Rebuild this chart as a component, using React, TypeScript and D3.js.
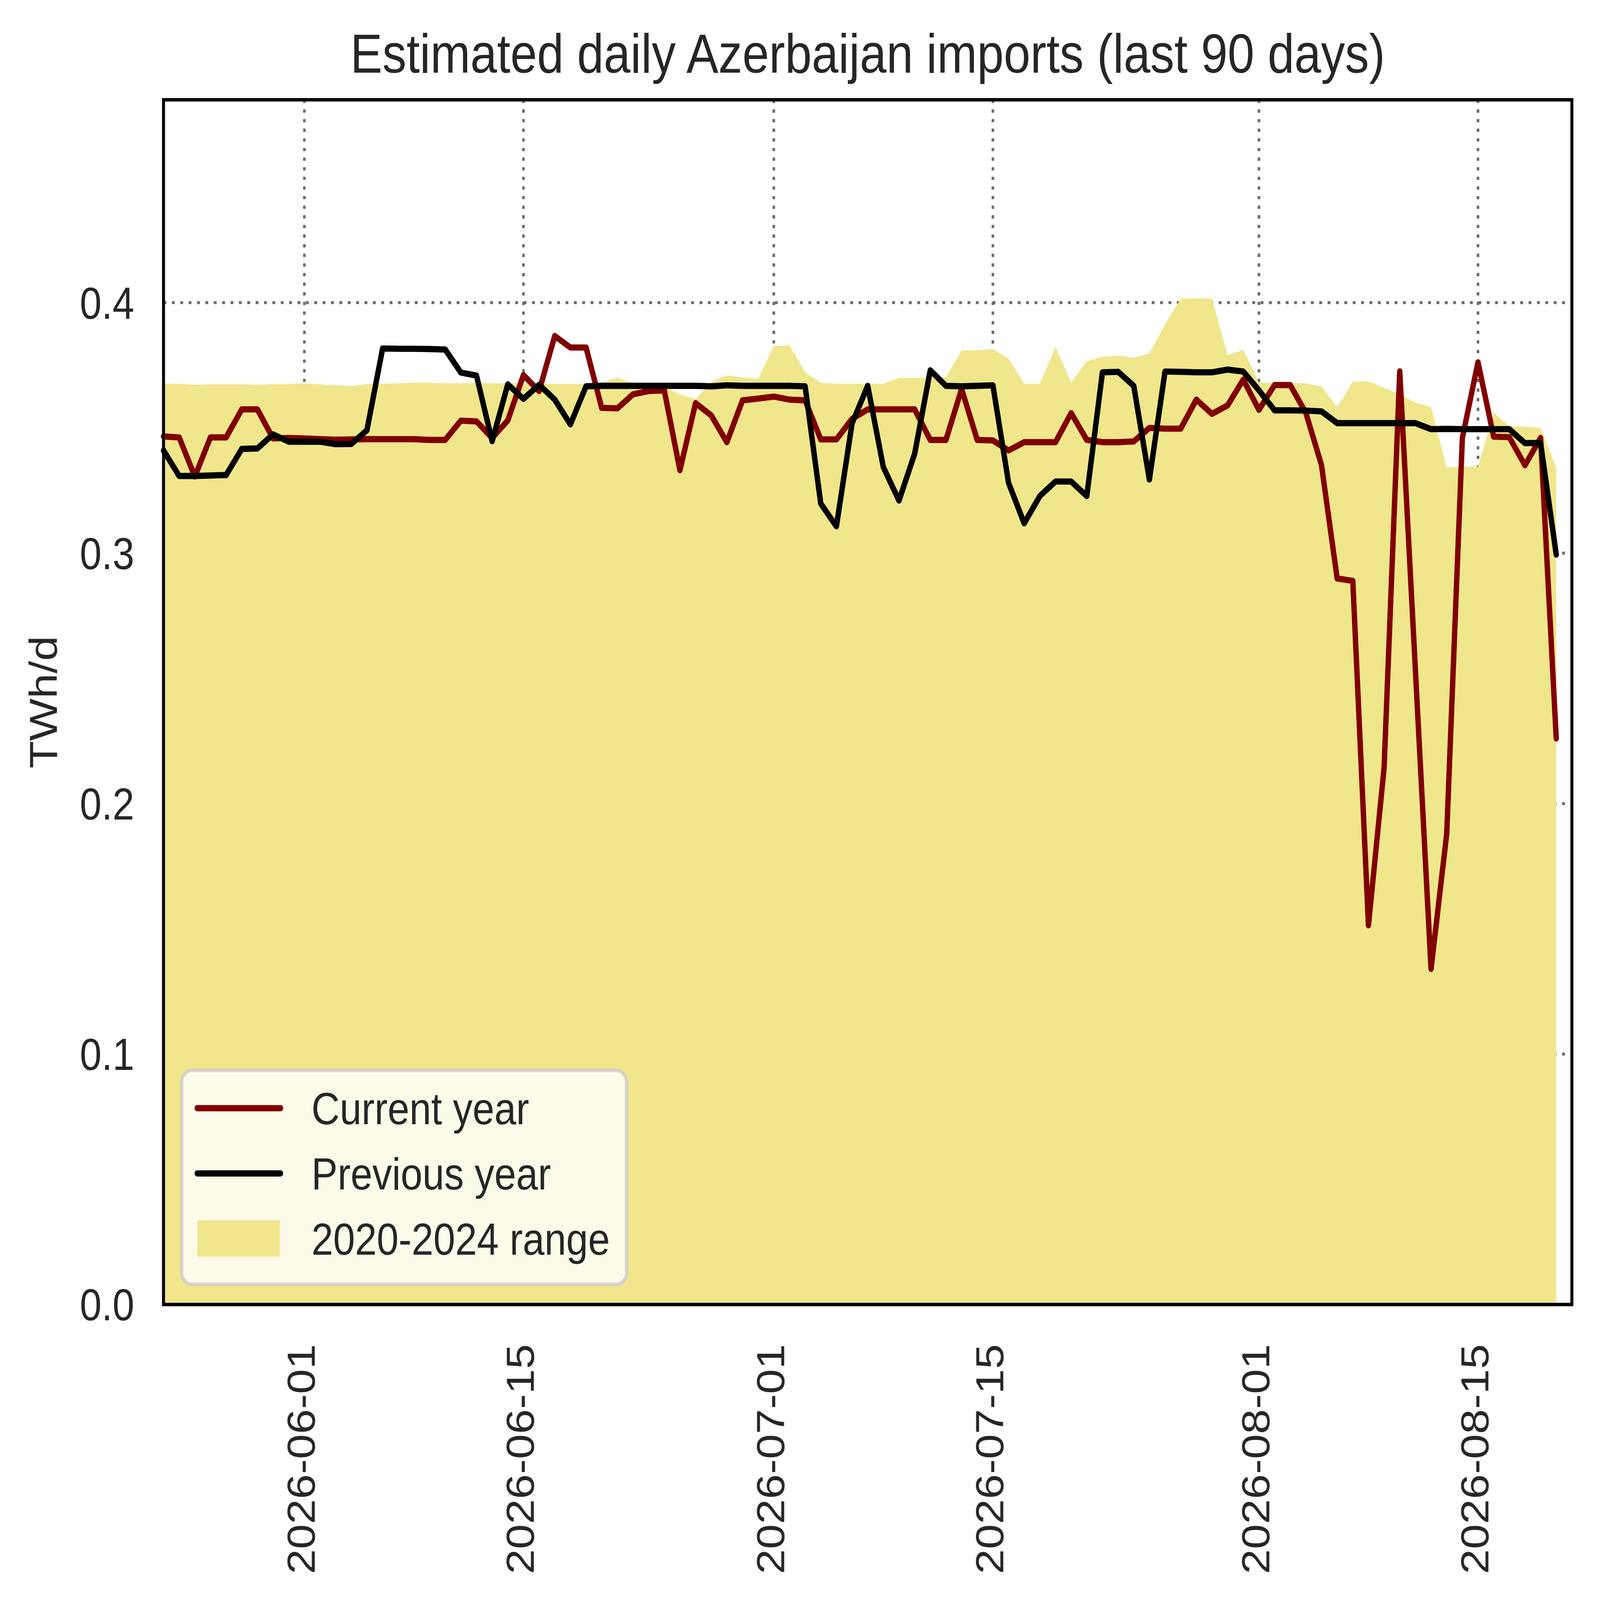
import React, { useEffect, useRef } from 'react';
import * as d3 from 'd3';

// 90 days, first day 2026-05-23
const START_DATE = '2026-05-23';
const END_DATE = '2026-08-21';

const currentYear = [
  0.3466, 0.3462, 0.3306, 0.3462, 0.3462, 0.3574, 0.3574, 0.3458, 0.3460, 0.3458,
  0.3455, 0.3453, 0.3454, 0.3455, 0.3455, 0.3455, 0.3455, 0.3452, 0.3452, 0.3529,
  0.3526, 0.3460, 0.3530, 0.3711, 0.3647, 0.3867, 0.3821, 0.3821, 0.3580, 0.3578,
  0.3634, 0.3647, 0.3650, 0.3331, 0.3599, 0.3550, 0.3443, 0.3610, 0.3617, 0.3625,
  0.3613, 0.3610, 0.3454, 0.3454, 0.3536, 0.3574, 0.3574, 0.3574, 0.3574, 0.3452,
  0.3452, 0.3655, 0.3452, 0.3450, 0.3410, 0.3443, 0.3443, 0.3443, 0.3559, 0.3452,
  0.3443, 0.3443, 0.3446, 0.3500, 0.3497, 0.3497, 0.3613, 0.3556, 0.3590, 0.3693,
  0.3572, 0.3671, 0.3671, 0.3560, 0.3351, 0.2899, 0.2889, 0.1514, 0.2144, 0.3726,
  0.2533, 0.1340, 0.1879, 0.3460, 0.3762, 0.3465, 0.3463, 0.3351, 0.3460, 0.2260,
];

const previousYear = [
  0.3410, 0.3308, 0.3308, 0.3310, 0.3312, 0.3416, 0.3418, 0.3474, 0.3445, 0.3445,
  0.3445, 0.3435, 0.3436, 0.3491, 0.3817, 0.3816, 0.3816, 0.3815, 0.3813, 0.3721,
  0.3709, 0.3447, 0.3674, 0.3616, 0.3672, 0.3613, 0.3514, 0.3666, 0.3668, 0.3668,
  0.3668, 0.3668, 0.3668, 0.3668, 0.3668, 0.3666, 0.3670, 0.3668, 0.3668, 0.3668,
  0.3668, 0.3666, 0.3198, 0.3107, 0.3518, 0.3668, 0.3343, 0.3210, 0.3397, 0.3730,
  0.3668, 0.3666, 0.3668, 0.3670, 0.3281, 0.3119, 0.3228, 0.3286, 0.3286, 0.3228,
  0.3722, 0.3724, 0.3668, 0.3294, 0.3725, 0.3724, 0.3722, 0.3722, 0.3733, 0.3725,
  0.3650, 0.3570, 0.3570, 0.3569, 0.3566, 0.3519, 0.3519, 0.3519, 0.3519, 0.3519,
  0.3519, 0.3495, 0.3496, 0.3495, 0.3495, 0.3495, 0.3495, 0.3439, 0.3440, 0.2994,
];

// upper edge of the 2020-2024 band (lower edge is 0)
const rangeMax = [
  0.3676, 0.3676, 0.3672, 0.3674, 0.3674, 0.3674, 0.3672, 0.3674, 0.3675, 0.3678,
  0.3674, 0.3670, 0.3667, 0.3675, 0.3676, 0.3678, 0.3681, 0.3680, 0.3678, 0.3678,
  0.3680, 0.3678, 0.3678, 0.3678, 0.3676, 0.3676, 0.3675, 0.3676, 0.3681, 0.3702,
  0.3679, 0.3679, 0.3665, 0.3634, 0.3615, 0.3684, 0.3710, 0.3702, 0.3696, 0.3827,
  0.3829, 0.3722, 0.3680, 0.3676, 0.3676, 0.3676, 0.3676, 0.3700, 0.3700, 0.3700,
  0.3702, 0.3809, 0.3810, 0.3815, 0.3777, 0.3676, 0.3676, 0.3824, 0.3681, 0.3766,
  0.3784, 0.3789, 0.3780, 0.3797, 0.3913, 0.4016, 0.4017, 0.4016, 0.3790, 0.3811,
  0.3680, 0.3680, 0.3680, 0.3678, 0.3665, 0.3583, 0.3685, 0.3685, 0.3660, 0.3634,
  0.3601, 0.3583, 0.3342, 0.3345, 0.3345, 0.3561, 0.3507, 0.3504, 0.3500, 0.3340,
];

const xTickLabels = ['2026-06-01', '2026-06-15', '2026-07-01', '2026-07-15', '2026-08-01', '2026-08-15'];
const yTicks = [0, 0.1, 0.2, 0.3, 0.4];
const Y_MAX = 0.481;

const legendItems = [
  { label: 'Current year', kind: 'line', color: '#800000' },
  { label: 'Previous year', kind: 'line', color: '#000000' },
  { label: '2020-2024 range', kind: 'patch', color: '#f0e68c' },
];

const FONT = '"Liberation Sans", Arial, Helvetica, sans-serif';
const TEXT = '#262626';
const W = 5636;
const H = 4906;

const App: React.FC = () => {
  const svgRef = useRef<SVGSVGElement | null>(null);

  useEffect(() => {
    if (!svgRef.current) return;

    const margin = { top: 306, right: 99, bottom: 906, left: 576 };

    const svg = d3.select(svgRef.current);
    svg.selectAll('*').remove();

    const parse = (s: string) => new Date(s + 'T00:00:00Z');
    const start = parse(START_DATE);
    const dates = currentYear.map((_, i) => d3.utcDay.offset(start, i));

    const x = d3.scaleUtc()
      .domain([start, parse(END_DATE)])
      .range([margin.left, W - margin.right]);

    const y = d3.scaleLinear()
      .domain([0, Y_MAX])
      .range([H - margin.bottom, margin.top]);

    const left = margin.left;
    const right = W - margin.right;
    const top = margin.top;
    const bottom = H - margin.bottom;

    svg.append('rect').attr('width', W).attr('height', H).attr('fill', '#ffffff');

    // 그리드 (밴드 아래에 깔림)
    const grid = svg.append('g').attr('stroke', '#6b6b6b').attr('stroke-width', 9);
    xTickLabels.forEach(t => {
      const gx = x(parse(t));
      grid.append('line')
        .attr('x1', gx).attr('x2', gx).attr('y1', top).attr('y2', bottom)
        .attr('stroke-dasharray', '10 19.5');
    });
    yTicks.forEach(t => {
      grid.append('line')
        .attr('x1', left).attr('x2', right).attr('y1', y(t)).attr('y2', y(t))
        .attr('stroke-dasharray', '10 19.5');
    });

    // 2020-2024 range
    const area = d3.area<number>()
      .x((_, i) => x(dates[i]))
      .y0(y(0))
      .y1(d => y(d));

    svg.append('path')
      .datum(rangeMax)
      .attr('d', area)
      .attr('fill', '#f0e68c');

    const line = d3.line<number>()
      .x((_, i) => x(dates[i]))
      .y(d => y(d));

    svg.append('path')
      .datum(currentYear)
      .attr('d', line)
      .attr('fill', 'none')
      .attr('stroke', '#800000')
      .attr('stroke-width', 19)
      .attr('stroke-linejoin', 'round')
      .attr('stroke-linecap', 'round');

    svg.append('path')
      .datum(previousYear)
      .attr('d', line)
      .attr('fill', 'none')
      .attr('stroke', '#000000')
      .attr('stroke-width', 19)
      .attr('stroke-linejoin', 'round')
      .attr('stroke-linecap', 'round');

    // 축 프레임
    svg.append('rect')
      .attr('x', left).attr('y', top)
      .attr('width', right - left).attr('height', bottom - top)
      .attr('fill', 'none')
      .attr('stroke', '#000000')
      .attr('stroke-width', 10.5);

    // y 눈금 라벨
    svg.append('g')
      .selectAll('text')
      .data(yTicks)
      .join('text')
      .attr('x', left - 103)
      .attr('y', d => y(d))
      .attr('dy', '0.355em')
      .attr('text-anchor', 'end')
      .attr('font-family', FONT)
      .attr('font-size', 138)
      .attr('fill', TEXT)
      .text(d => d.toFixed(1));

    // x 눈금 라벨 (90도 회전)
    svg.append('g')
      .selectAll('text')
      .data(xTickLabels)
      .join('text')
      .attr('transform', d => `translate(${x(parse(d)) + 36},${bottom + 121}) rotate(-90)`)
      .attr('text-anchor', 'end')
      .attr('font-family', FONT)
      .attr('font-size', 138)
      .attr('fill', TEXT)
      .text(d => d);

    svg.append('text')
      .attr('transform', `translate(200,${(top + bottom) / 2}) rotate(-90)`)
      .attr('text-anchor', 'middle')
      .attr('font-family', FONT)
      .attr('font-size', 138)
      .attr('fill', TEXT)
      .text('TWh/d');

    svg.append('text')
      .attr('x', (left + right) / 2)
      .attr('y', 223)
      .attr('text-anchor', 'middle')
      .attr('font-family', FONT)
      .attr('font-size', 169)
      .attr('fill', TEXT)
      .text('Estimated daily Azerbaijan imports (last 90 days)');

    // 범례
    const lg = svg.append('g');
    lg.append('rect')
      .attr('x', 640).attr('y', 3282)
      .attr('width', 1567).attr('height', 656)
      .attr('rx', 36)
      .attr('fill', '#ffffff').attr('fill-opacity', 0.8)
      .attr('stroke', '#cccccc').attr('stroke-opacity', 0.8)
      .attr('stroke-width', 11);

    legendItems.forEach((item, i) => {
      const rowY = 3398 + i * 200;
      if (item.kind === 'line') {
        lg.append('line')
          .attr('x1', 695).attr('x2', 988)
          .attr('y1', rowY).attr('y2', rowY)
          .attr('stroke', item.color)
          .attr('stroke-width', 19)
          .attr('stroke-linecap', 'round');
      } else {
        lg.append('rect')
          .attr('x', 695).attr('y', rowY - 56)
          .attr('width', 291).attr('height', 111)
          .attr('fill', item.color);
      }
      lg.append('text')
        .attr('x', 1097)
        .attr('y', rowY + 49)
        .attr('font-family', FONT)
        .attr('font-size', 138)
        .attr('fill', TEXT)
        .text(item.label);
    });
  }, []);

  // viewBox 전체를 창에 맞춤 (창 크기가 5636x4906이면 그대로 1:1)
  return (
    <svg
      ref={svgRef}
      viewBox={`0 0 ${W} ${H}`}
      preserveAspectRatio="none"
      style={{ position: 'fixed', left: 0, top: 0, width: '100vw', height: '100vh', display: 'block' }}
    />
  );
};

export default App;
